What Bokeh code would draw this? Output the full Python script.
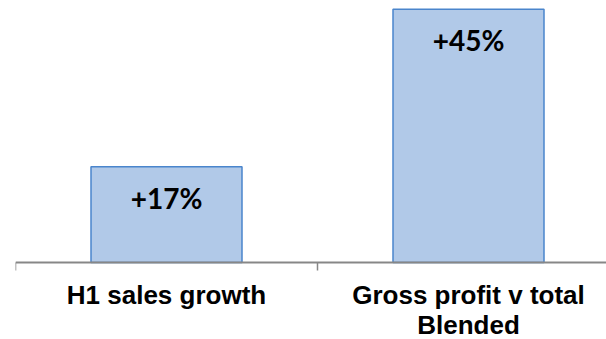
from bokeh.plotting import figure
from bokeh.models import ColumnDataSource, Range1d, FixedTicker, LinearAxis
from bokeh.core.properties import value
from bokeh.embed import file_html
from bokeh.resources import INLINE

categories = ["H1 sales growth", "Gross profit v total\nBlended"]
values = [17, 45]
bar_labels = ["+17%", "+45%"]

n = len(categories)
centers = [i + 0.5 for i in range(n)]
src = ColumnDataSource(dict(x=centers, top=values, label=bar_labels))

px_per_unit = 5.63
W, H = 606, 339
axis_px = 262
left_px = 15
band_px = 302

p = figure(width=W, height=H, output_backend="svg", toolbar_location=None,
           x_range=Range1d(0, (W - left_px) / band_px),
           y_range=Range1d(-(H - axis_px) / px_per_unit, axis_px / px_per_unit),
           x_axis_location=None, y_axis_location=None,
           min_border_left=left_px, min_border_right=0,
           min_border_top=0, min_border_bottom=0)
p.outline_line_color = None
p.xgrid.grid_line_color = None
p.ygrid.grid_line_color = None
p.background_fill_color = "white"
p.border_fill_color = "white"

p.vbar(x="x", top="top", bottom=0, width=0.5, source=src,
       fill_color="#b1c9e8", line_color="#4a85cc", line_width=1.5)

p.text(x="x", y="top", text="label", source=src, y_offset=31,
       text_align="center", text_baseline="middle",
       text_font=value("Lato"), text_font_style="bold",
       text_font_size="28px", text_color="#000000")

ax = LinearAxis(fixed_location=0)
ax.ticker = FixedTicker(ticks=centers, minor_ticks=list(range(n + 1)))
ax.major_label_overrides = {c: lab for c, lab in zip(centers, categories)}
ax.major_tick_out = 0
ax.major_tick_in = 0
ax.minor_tick_out = 8
ax.minor_tick_in = 0
ax.minor_tick_line_color = "#878787"
ax.minor_tick_line_width = 1.5
ax.axis_line_color = "#878787"
ax.axis_line_width = 2
ax.major_label_standoff = 9
ax.major_label_text_font = "Liberation Sans"
ax.major_label_text_font_style = "bold"
ax.major_label_text_font_size = "26px"
ax.major_label_text_color = "#000000"
ax.major_label_text_align = "center"
ax.major_label_text_line_height = 1.0
p.add_layout(ax, "below")

open("out.html", "w").write(file_html(p, INLINE))
